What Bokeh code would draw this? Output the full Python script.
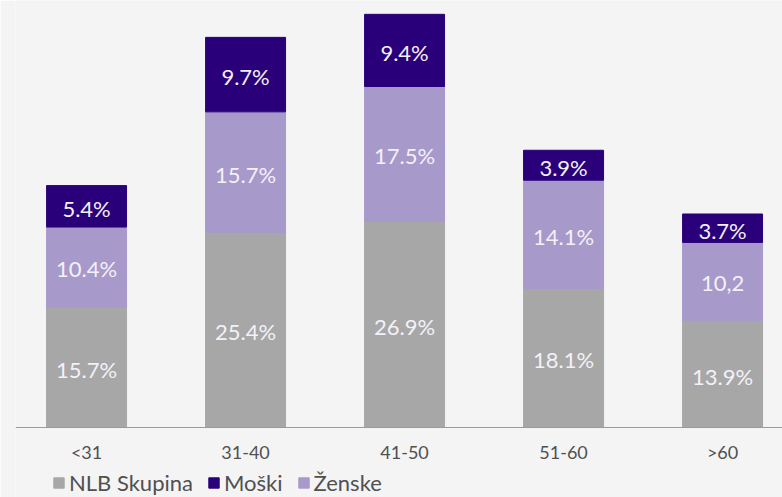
from bokeh.plotting import figure
from bokeh.models import ColumnDataSource, Legend, LegendItem, Span
from bokeh.core.properties import value
from bokeh.embed import file_html
from bokeh.resources import INLINE

categories = ["<31", "31-40", "41-50", "51-60", ">60"]
nlb = [15.7, 25.4, 26.9, 18.1, 13.9]
zenske = [10.4, 15.7, 17.5, 14.1, 10.2]
moski = [5.4, 9.7, 9.4, 3.9, 3.7]
nlb_labels = ["15.7%", "25.4%", "26.9%", "18.1%", "13.9%"]
zenske_labels = ["10.4%", "15.7%", "17.5%", "14.1%", "10,2"]
moski_labels = ["5.4%", "9.7%", "9.4%", "3.9%", "3.7%"]

C_NLB = "#a7a7a7"
C_Z = "#a899cb"
C_M = "#29007a"
BG = "#f4f4f4"
FONT = "Lato"

x = list(range(len(categories)))
b0 = [0.0] * len(x)
b1 = [a for a in nlb]
b2 = [a + b for a, b in zip(nlb, zenske)]
t2 = [a + b for a, b in zip(b2, moski)]

src = ColumnDataSource(dict(
    x=x, cat=categories, nlb=nlb, zenske=zenske, moski=moski,
    b0=b0, b1=b1, b2=b2, t2=t2,
    m0=[(a + b) / 2 for a, b in zip(b0, b1)],
    m1=[(a + b) / 2 for a, b in zip(b1, b2)],
    m2=[(a + b) / 2 for a, b in zip(b2, t2)],
    l0=nlb_labels, l1=zenske_labels, l2=moski_labels,
))

# y=0 sits 70px above the bottom edge, leaving room for category labels and legend
p = figure(width=782, height=497, output_backend="svg", toolbar_location=None,
           x_range=(-0.447, 4.377), y_range=(-9.115, 55.6),
           min_border_left=15, min_border_right=0, min_border_top=0,
           min_border_bottom=0)
p.background_fill_color = BG
p.border_fill_color = BG
p.outline_line_color = None
p.grid.grid_line_color = None
p.xaxis.visible = False
p.yaxis.visible = False

W = 0.503
r0 = p.vbar(x="x", bottom="b0", top="b1", width=W, color=C_NLB, source=src)
r1 = p.vbar(x="x", bottom="b1", top="b2", width=W, color=C_Z, source=src)
r2 = p.vbar(x="x", bottom="b2", top="t2", width=W, color=C_M, source=src)

for ycol, lcol in (("m0", "l0"), ("m1", "l1"), ("m2", "l2")):
    p.text(x="x", y=ycol, text=lcol, source=src, text_align="center",
           text_baseline="middle", text_color="#f3f1f7", text_font_size="22px",
           text_font=value(FONT), y_offset=2)

# baseline (category axis line) and category labels
p.add_layout(Span(location=0, dimension="width", line_color="#9a9a9a", line_width=1))
p.text(x="x", y="b0", text="cat", source=src, text_align="center",
       text_baseline="middle", text_color="#505050", text_font_size="18px",
       text_font=value(FONT), y_offset=25)

legend = Legend(items=[
    LegendItem(label="NLB Skupina", renderers=[r0]),
    LegendItem(label="Moški", renderers=[r2]),
    LegendItem(label="Ženske", renderers=[r1]),
], orientation="horizontal", location=(37, 1))
legend.background_fill_alpha = 0
legend.border_line_color = None
legend.padding = 0
legend.margin = 0
legend.spacing = 14
legend.glyph_width = 13
legend.glyph_height = 13
legend.label_standoff = 4
legend.label_text_font = FONT
legend.label_text_font_size = "22px"
legend.label_text_color = "#505050"
p.add_layout(legend, "center")

html = file_html(p, INLINE)
html = html.replace("<body>", '<body style="background:%s">' % BG, 1)
open("out.html", "w").write(html)
